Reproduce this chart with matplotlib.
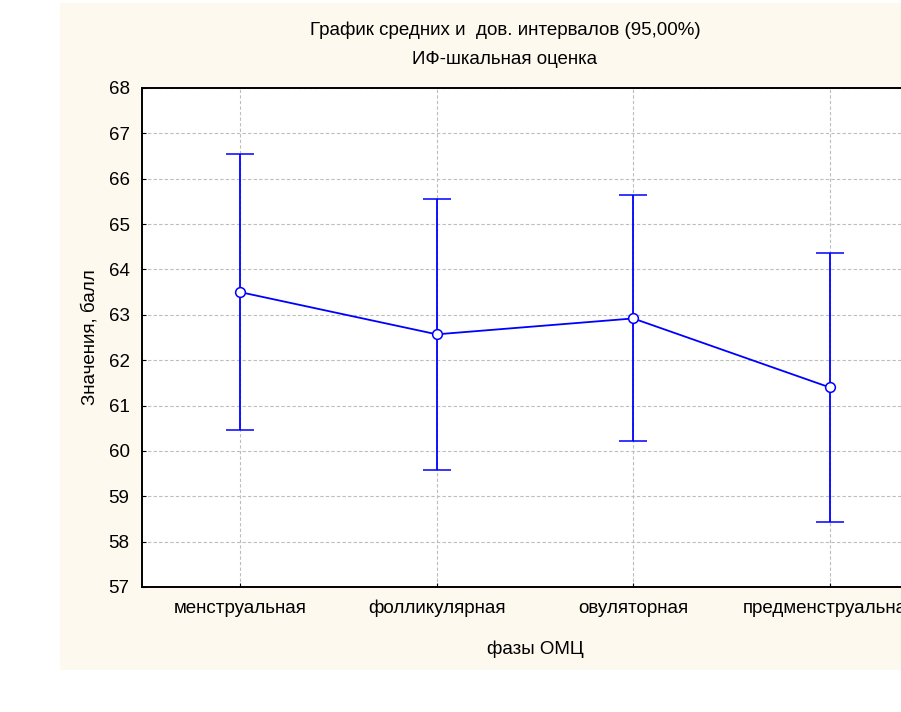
import matplotlib as mpl
mpl.use('Agg')
import matplotlib.pyplot as plt
from matplotlib.patches import Rectangle

plt.rcParams['font.family'] = ['Liberation Sans', 'DejaVu Sans']
FS = 13.5

# фазы цикла, средние и границы 95% интервала
phases = ["менструальная", "фолликулярная", "овуляторная", "предменструальная"]
means = [63.50, 62.57, 62.92, 61.40]
upper = [66.55, 65.55, 65.64, 64.36]
lower = [60.45, 59.58, 60.21, 58.43]
yticks = list(range(57, 69))

W, H = 901, 712
fig = plt.figure(figsize=(W / 100, H / 100), dpi=100)
fig.patch.set_facecolor('white')

# кремовая подложка графика
fig.add_artist(Rectangle((60 / W, (H - 670) / H), (901 - 60) / W, (670 - 3) / H,
                         transform=fig.transFigure, facecolor='#fdf9ee',
                         edgecolor='none', zorder=0))

left, right, top, bottom = 142, 928, 88, 587
ax = fig.add_axes([left / W, (H - bottom) / H, (right - left) / W, (bottom - top) / H])
ax.set_facecolor('white')

x = list(range(len(phases)))
yerr = [[m - l for m, l in zip(means, lower)], [u - m for m, u in zip(means, upper)]]
ax.errorbar(x, means, yerr=yerr, color='#0000ff', lw=1.3, capsize=10, capthick=1.3,
            marker='o', ms=7, mfc='white', mec='#0000ff', mew=1.1, zorder=3)

ax.set_xlim(-0.5, 3.5)
ax.set_ylim(57, 68)
ax.set_xticks(x)
ax.set_xticklabels(phases, fontsize=FS)
for lab in ax.get_xticklabels():
    lab.set_va('baseline')
ax.set_yticks(yticks)
ax.tick_params(axis='y', labelsize=FS, direction='in', length=3, pad=9)
ax.tick_params(axis='x', direction='in', length=3, pad=19)
ax.grid(True, color='#bdbdbd', ls=(0, (3, 2)), lw=0.8)
ax.set_axisbelow(True)
for s in ax.spines.values():
    s.set_linewidth(1.4)
    s.set_color('black')

ax.set_xlabel("фазы ОМЦ", fontsize=FS, labelpad=17)
ax.set_ylabel("Значения, балл", fontsize=FS, labelpad=7)

fig.text(505 / W, 1 - 30 / H, "График средних и  дов. интервалов (95,00%)",
         ha='center', va='center', fontsize=FS)
fig.text(505 / W, 1 - 59 / H, "ИФ-шкальная оценка",
         ha='center', va='center', fontsize=FS)

fig.savefig("out.png", dpi=100)
